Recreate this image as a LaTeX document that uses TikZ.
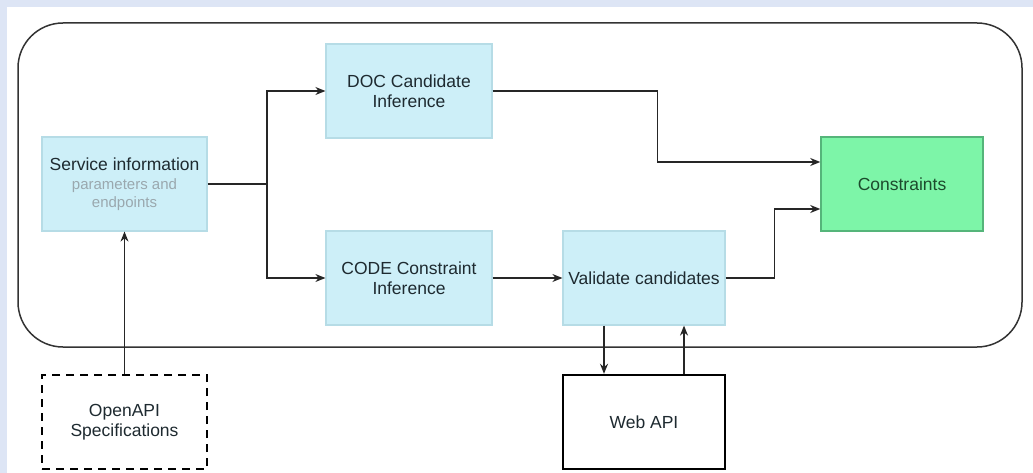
\documentclass[tikz,border=0pt]{standalone}
\usepackage{fontspec}
\setmainfont{Liberation Sans}
\usetikzlibrary{arrows.meta}
\definecolor{bgblue}{HTML}{DDE5F5}
\definecolor{boxfill}{HTML}{CDEFF8}
\definecolor{boxline}{HTML}{B6DCE6}
\definecolor{greenfill}{HTML}{7DF5A8}
\definecolor{greenline}{HTML}{55B57A}
\definecolor{txt}{HTML}{1E2A30}
\definecolor{subtxt}{HTML}{9AA8AE}
\definecolor{greentxt}{HTML}{1C4A2C}
\begin{document}
\begin{tikzpicture}[x=1pt,y=-1pt,
  font=\fontsize{17.5}{20}\selectfont,
  stepbox/.style={draw=boxline, line width=1.2pt, fill=boxfill, text=txt, align=center, minimum width=165pt, minimum height=94pt, inner sep=2pt},
  resultbox/.style={draw=greenline, line width=1.5pt, fill=greenfill, text=greentxt, align=center, minimum width=162pt, minimum height=94pt},
  extbox/.style={draw=black, line width=2.4pt, text=txt, align=center, minimum width=162pt, minimum height=94pt},
  arr/.style={draw=black!85, line width=1.5pt, -{Stealth[length=10pt,width=8pt]}},
  conn/.style={draw=black!85, line width=1.5pt}
]
\useasboundingbox (0,0) rectangle (1033,473);
\fill[bgblue] (0,0) rectangle (1033,473);
\fill[white] (7,7) rectangle (1033,473);
\draw[black!80, line width=1.5pt, rounded corners=45pt] (18,23) rectangle (1022,347);

\node[stepbox] (svc) at (124.5,184) {Service information\\[-1pt]{\fontsize{15}{19}\selectfont\color{subtxt}parameters and}\\[-2pt]{\fontsize{15}{19}\selectfont\color{subtxt}endpoints}};
\node[stepbox, minimum width=166pt] (doc) at (409,91) {DOC Candidate\\Inference};
\node[stepbox, minimum width=166pt] (code) at (409,278) {CODE Constraint\\Inference};
\node[stepbox, minimum width=162pt] (val) at (644,278) {Validate candidates};
\node[resultbox] (cons) at (902,184) {Constraints};
\node[extbox, dashed, dash pattern=on 8pt off 6pt, minimum width=165pt] (oas) at (124.5,422) {OpenAPI\\Specifications};
\node[extbox] (web) at (644,422) {Web API};

\coordinate (j) at (267,184);
\draw[conn] (svc.east) -- (j);
\draw[arr] (j) |- (doc.west);
\draw[arr] (j) |- (code.west);
\draw[arr] (doc.east) -- ++(165,0) |- ([yshift=22pt]cons.west);
\draw[arr] (val.east) -- ++(49,0) |- ([yshift=-25pt]cons.west);
\draw[arr] (code.east) -- (val.west);
\draw[arr] ([xshift=-40pt]val.south) -- ([xshift=-40pt]web.north);
\draw[arr] ([xshift=40pt]web.north) -- ([xshift=40pt]val.south);
\draw[arr] (oas.north) -- (svc.south);
\end{tikzpicture}
\end{document}
